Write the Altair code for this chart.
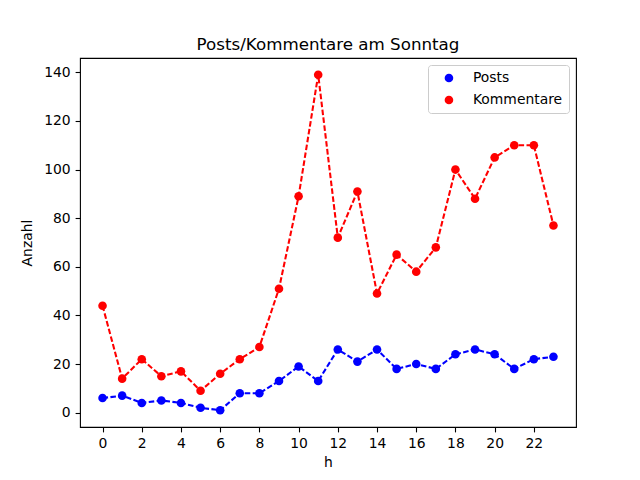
import altair as alt
import pandas as pd

hours = list(range(24))
posts = [6, 7, 4, 5, 4, 2, 1, 8, 8, 13, 19, 13, 26, 21, 26, 18, 20, 18, 24, 26, 24, 18, 22, 23]
kommentare = [44, 14, 22, 15, 17, 9, 16, 22, 27, 51, 89, 139, 72, 91, 49, 65, 58, 68, 100, 88, 105, 110, 110, 77]
series = ["Posts", "Kommentare"]
colors = ["#0000ff", "#ff0000"]
x_ticks = list(range(0, 23, 2))
y_ticks = list(range(0, 141, 20))

df = pd.DataFrame({"h": hours * 2,
                   "Anzahl": posts + kommentare,
                   "Serie": ["Posts"] * 24 + ["Kommentare"] * 24})

FONT = "DejaVu Sans"

x_enc = alt.X("h:Q", title="h",
              scale=alt.Scale(domain=[-1.15, 24.15], nice=False, zero=False),
              axis=alt.Axis(values=x_ticks, format="d"))
y_enc = alt.Y("Anzahl:Q", title="Anzahl",
              scale=alt.Scale(domain=[-5.9, 145.9], nice=False, zero=False),
              axis=alt.Axis(values=y_ticks, format="d"))
color_enc = alt.Color("Serie:N", scale=alt.Scale(domain=series, range=colors), sort=series,
                      legend=alt.Legend(title=None, orient="top-right", offset=7,
                                        symbolType="circle", symbolSize=74,
                                        symbolFillColor=None,
                                        symbolStrokeWidth=0,
                                        symbolOffset=8, labelOffset=17,
                                        labelFont=FONT, labelFontSize=13.9, labelColor="#000000",
                                        padding=6, rowPadding=7,
                                        fillColor="rgba(255,255,255,0.8)", strokeColor="#cccccc",
                                        cornerRadius=3, labelLimit=300))

lines = alt.Chart(df).mark_line(strokeDash=[5.55, 2.4], strokeWidth=2.08).encode(
    x=x_enc, y=y_enc, color=color_enc, detail="Serie:N",
)

points = alt.Chart(df).mark_point(filled=True, size=74, opacity=1, shape="circle").encode(
    x=x_enc, y=y_enc, color=color_enc,
)

chart = alt.layer(lines, points).properties(
    width=496, height=369,
    title=alt.TitleParams("Posts/Kommentare am Sonntag", font=FONT, fontSize=16.7,
                          fontWeight="normal", color="#000000", anchor="middle",
                          baseline="bottom", offset=-13),
    autosize=alt.AutoSizeParams(type="none"),
    padding={"left": 72, "top": 50, "right": 56, "bottom": 45},
).configure_view(
    stroke="#000000", strokeWidth=1.1
).configure_axis(
    grid=False, domain=False, ticks=True, tickSize=4.9, tickWidth=1.1, tickColor="#000000",
    labelFont=FONT, labelFontSize=13.9, labelColor="#000000", labelPadding=4.9,
    titleFont=FONT, titleFontSize=13.9, titleFontWeight="normal", titleColor="#000000",
).configure_axisX(titlePadding=5).configure_axisY(titlePadding=9)

chart.save("out.html", embed_options={"renderer": "svg", "actions": False})
